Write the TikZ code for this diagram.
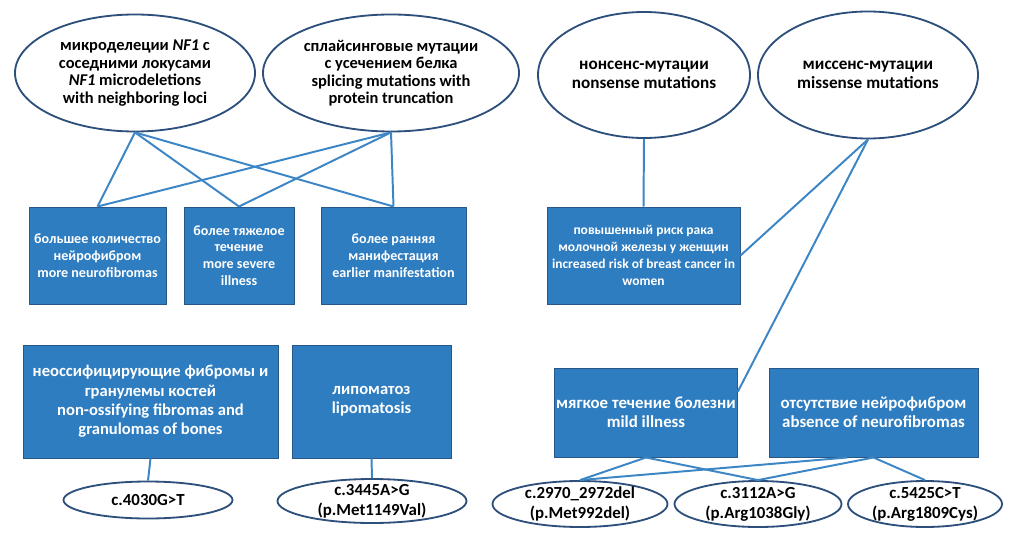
\documentclass[tikz,border=0pt]{standalone}
\usepackage{fontspec}
\setmainfont{Carlito}
\usepackage{tikz}
\usetikzlibrary{shapes.geometric,positioning,calc}

\definecolor{boxblue}{RGB}{46,125,193}
\definecolor{boxedge}{RGB}{40,88,136}
\definecolor{ovaledge}{RGB}{44,79,124}
\definecolor{linkblue}{RGB}{60,134,198}

\begin{document}
\begin{tikzpicture}[
    every node/.style={font=\bfseries, align=center},
    oval/.style={draw=ovaledge, line width=1.3pt, fill=white, ellipse, inner sep=0pt},
    effect/.style={draw=boxedge, line width=0.7pt, fill=boxblue, text=white, rectangle, inner sep=1pt},
    mutlabel/.style={font=\bfseries\fontsize{12}{14.2}\selectfont, align=center, inner sep=0pt},
    link/.style={draw=linkblue, line width=1.4pt}
  ]
      \useasboundingbox (0,0) rectangle (25.325,13.675);

      % Mutation types
      \node[oval, minimum width=6cm, minimum height=2.925cm, font=\bfseries\fontsize{11.7}{12.4}\selectfont] (e1) at (3.375, 11.85) {микроделеции \textit{NF1} с\\соседними локусами\\\textit{NF1} microdeletions\\with neighboring loci};
      \node[oval, minimum width=6.4cm, minimum height=2.925cm, font=\bfseries\fontsize{11.7}{12.4}\selectfont] (e2) at (9.775, 11.85) {сплайсинговые мутации\\с усечением белка\\splicing mutations with\\protein truncation};
      \node[oval, minimum width=5.3cm, minimum height=3.15cm, font=\bfseries\fontsize{12.2}{13.7}\selectfont] (e3) at (16.1, 11.8) {нонсенс-мутации\\nonsense mutations};
      \node[oval, minimum width=5.5cm, minimum height=3.175cm, font=\bfseries\fontsize{12.2}{13.7}\selectfont] (e4) at (21.7, 11.8) {миссенс-мутации\\missense mutations};

      % Clinical features, upper row
      \node[effect, minimum width=3.425cm, minimum height=2.425cm, font=\bfseries\fontsize{10}{11.9}\selectfont] (b1) at (2.4375, 7.2875) {большее количество\\нейрофибром\\more neurofibromas};
      \node[effect, minimum width=2.75cm, minimum height=2.425cm, font=\bfseries\fontsize{10}{11.9}\selectfont] (b2) at (5.975, 7.2875) {более тяжелое\\течение\\more severe\\illness};
      \node[effect, minimum width=3.625cm, minimum height=2.425cm, font=\bfseries\fontsize{10}{11.9}\selectfont] (b3) at (9.8375, 7.2875) {более ранняя\\манифестация\\earlier manifestation};
      \node[effect, minimum width=4.825cm, minimum height=2.425cm, font=\bfseries\fontsize{9.6}{11.9}\selectfont] (b4) at (16.0875, 7.2875) {повышенный риск рака\\молочной железы у женщин\\increased risk of breast cancer in\\women};

      % Clinical features, lower row
      \node[effect, minimum width=6.375cm, minimum height=2.825cm, font=\bfseries\fontsize{11.8}{13.8}\selectfont] (b5) at (3.7625, 3.6375) {неоссифицирующие фибромы и\\гранулемы костей\\non-ossifying fibromas and\\granulomas of bones};
      \node[effect, minimum width=3.975cm, minimum height=2.825cm, font=\bfseries\fontsize{11.8}{13.8}\selectfont] (b6) at (9.2875, 3.6375) {липоматоз\\lipomatosis};
      \node[effect, minimum width=4.55cm, minimum height=2.225cm, font=\bfseries\fontsize{12}{13.8}\selectfont] (b7) at (16.15, 3.3625) {мягкое течение болезни\\mild illness};
      \node[effect, minimum width=5.225cm, minimum height=2.225cm, font=\bfseries\fontsize{12}{13.8}\selectfont] (b8) at (21.8375, 3.3625) {отсутствие нейрофибром\\absence of neurofibromas};

      % Variants
      \node[oval, minimum width=4.225cm, minimum height=0.925cm, label={[mutlabel]center:c.4030G>T}] (o1) at (3.7, 1.175) {};
      \node[oval, minimum width=4.725cm, minimum height=1.1cm, label={[mutlabel]center:{c.3445A>G\\(p.Met1149Val)}}] (o2) at (9.3, 1.15) {};
      \node[oval, minimum width=4.375cm, minimum height=1.15cm, label={[mutlabel]center:{c.2970\_2972del\\(p.Met992del)}}] (o3) at (14.5, 1.075) {};
      \node[oval, minimum width=4.175cm, minimum height=1.15cm, label={[mutlabel]center:{c.3112A>G\\(p.Arg1038Gly)}}] (o4) at (18.95, 1.075) {};
      \node[oval, minimum width=3.85cm, minimum height=1.15cm, label={[mutlabel]center:{c.5425C>T\\(p.Arg1809Cys)}}] (o5) at (23.125, 1.075) {};

      % Links
      \draw[link] (e1.south) -- (b1.north);
      \draw[link] (e1.south) -- (b2.north);
      \draw[link] (e1.south) -- (b3.north);
      \draw[link] (e2.south) -- (b1.north);
      \draw[link] (e2.south) -- (b2.north);
      \draw[link] (e2.south) -- (b3.north);
      \draw[link] (e3.south) -- (b4.north);
      \draw[link] (e4.south) -- (b4.east);
      \draw[link] (e4.south) -- ($(b7.north east)!0.27!(b7.south east)$);
      \draw[link] (b5.south) -- (o1.north);
      \draw[link] (b6.south) -- (o2.north);
      \draw[link] (b7.south) -- (o3.north);
      \draw[link] (b7.south) -- (o4.north);
      \draw[link] ($(b8.south west)!0.375!(b8.south east)$) -- (o3.north);
      \draw[link] (b8.south) -- (o4.north);
      \draw[link] (b8.south) -- (o5.north);
    \end{tikzpicture}
\end{document}
